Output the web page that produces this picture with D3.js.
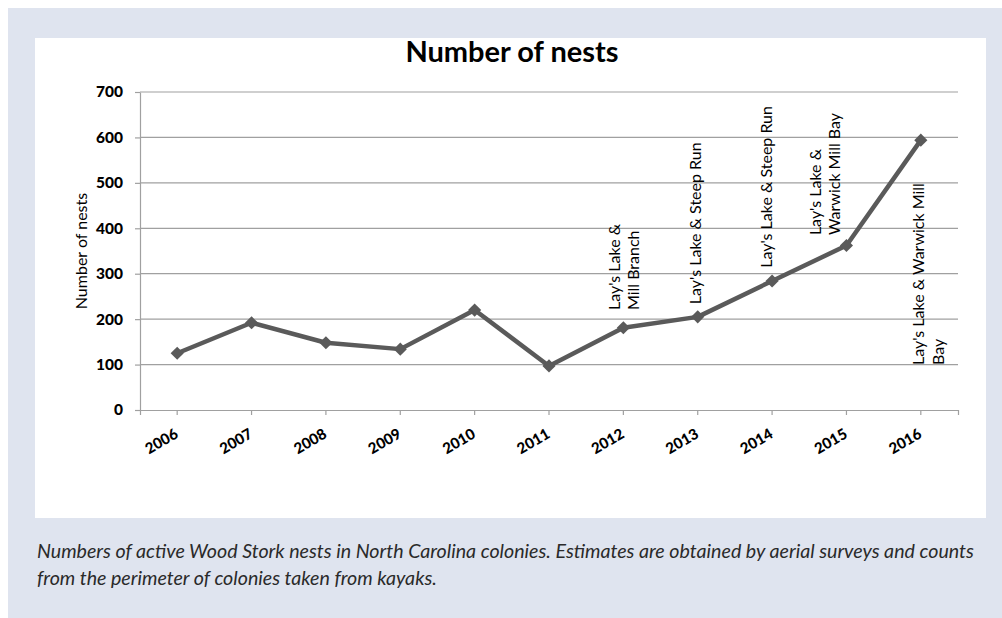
<!DOCTYPE html>
<html>
<head>
<meta charset="utf-8">
<script src="https://cdn.jsdelivr.net/npm/d3@7"></script>
<style>
  html, body { margin: 0; padding: 0; background: #ffffff; }
  svg { display: block; }
</style>
</head>
<body>
<svg id="chart" width="1002" height="618"></svg>
<script>
// Wood Stork nest counts by year
const years = ["2006", "2007", "2008", "2009", "2010", "2011", "2012", "2013", "2014", "2015", "2016"];
const nests = [125, 192, 148, 134, 220, 97, 181, 205, 284, 362, 594];
const yTicks = [0, 100, 200, 300, 400, 500, 600, 700];

// Colony names noted above individual years
const colonyNotes = [
  { year: "2012", lines: ["Lay's Lake &", "Mill Branch"] },
  { year: "2013", lines: ["Lay's Lake & Steep Run"] },
  { year: "2014", lines: ["Lay's Lake & Steep Run"] },
  { year: "2015", lines: ["Lay's Lake &", "Warwick Mill Bay"] },
  { year: "2016", lines: ["Lay's Lake & Warwick Mill", "Bay"] }
];
// Where each note sits: horizontal shift from the point, and the value its baseline starts at
const notePlacement = {
  "2012": { dx: -9, base: 220 },
  "2013": { dx: -2, base: 233 },
  "2014": { dx: -6, base: 313 },
  "2015": { dx: -31, base: 385 },
  "2016": { dx: -2, base: 99 }
};

const captionLines = [
  "Numbers of active Wood Stork nests in North Carolina colonies. Estimates are obtained by aerial surveys and counts",
  "from the perimeter of colonies taken from kayaks."
];

const svg = d3.select("#chart");
const font = "Lato, 'Open Sans', sans-serif";
const ink = "#000000";
const lineColor = "#5a5a5a";
const gridColor = "#a0a0a0";

// Page background and white chart card
svg.append("rect").attr("x", 8).attr("y", 8).attr("width", 994).attr("height", 610).attr("fill", "#dfe4ef");
svg.append("rect").attr("x", 35).attr("y", 38).attr("width", 951).attr("height", 480).attr("fill", "#ffffff");

const plot = { left: 140, right: 958, top: 92, bottom: 410 };

const x = d3.scaleBand().domain(years).range([plot.left, plot.right]);
const cx = d => x(d) + x.bandwidth() / 2;
const y = d3.scaleLinear().domain([0, 700]).range([plot.bottom, plot.top]);

// Title
svg.append("text")
  .attr("x", 512).attr("y", 62)
  .attr("text-anchor", "middle")
  .attr("font-family", font).attr("font-weight", "bold").attr("font-size", 29)
  .attr("fill", ink)
  .text("Number of nests");

// Horizontal gridlines
svg.append("g")
  .selectAll("line")
  .data(yTicks.filter(t => t > 0))
  .join("line")
  .attr("x1", plot.left).attr("x2", plot.right)
  .attr("y1", d => y(d)).attr("y2", d => y(d))
  .attr("stroke", gridColor).attr("stroke-width", 1.2);

// Y axis
const yAxis = svg.append("g")
  .attr("transform", `translate(${plot.left},0)`)
  .call(d3.axisLeft(y).tickValues(yTicks).tickSize(5).tickPadding(12).tickSizeOuter(0));
yAxis.select(".domain").attr("stroke", gridColor).attr("stroke-width", 1.2);
yAxis.selectAll(".tick line").attr("stroke", gridColor).attr("stroke-width", 1.2);
yAxis.selectAll(".tick text")
  .attr("font-family", font).attr("font-weight", "900").attr("font-size", 15.5)
  .attr("fill", ink);

// Y axis title
svg.append("text")
  .attr("transform", `translate(87,${(plot.top + plot.bottom) / 2}) rotate(-90)`)
  .attr("text-anchor", "middle")
  .attr("font-family", font).attr("font-size", 16)
  .attr("fill", ink)
  .text("Number of nests");

// X axis with ticks at category centres
const xAxis = svg.append("g")
  .attr("transform", `translate(0,${plot.bottom})`)
  .call(d3.axisBottom(x).tickSize(5).tickSizeOuter(5).tickPadding(4));
xAxis.select(".domain").attr("stroke", gridColor).attr("stroke-width", 1.2);
xAxis.selectAll(".tick line").attr("stroke", gridColor).attr("stroke-width", 1.2);
xAxis.selectAll(".tick text")
  .attr("font-family", font).attr("font-weight", "900").attr("font-size", 15)
  .attr("fill", ink)
  .attr("text-anchor", "end")
  .attr("y", 0).attr("dy", 0)
  .attr("transform", "translate(2,27) rotate(-30)");

// Line series
const line = d3.line().x((d, i) => cx(years[i])).y(d => y(d));
svg.append("path")
  .datum(nests)
  .attr("d", line)
  .attr("fill", "none")
  .attr("stroke", lineColor)
  .attr("stroke-width", 4.5)
  .attr("stroke-linejoin", "round");

// Diamond markers
const diamond = d3.symbol().type(d3.symbolDiamond2).size(110);
svg.append("g")
  .selectAll("path")
  .data(nests)
  .join("path")
  .attr("d", diamond)
  .attr("transform", (d, i) => `translate(${cx(years[i])},${y(d)})`)
  .attr("fill", lineColor);

// Colony notes, written vertically
const notes = svg.append("g");
colonyNotes.forEach(n => {
  const p = notePlacement[n.year];
  const t = notes.append("text")
    .attr("transform", `translate(${cx(n.year) + p.dx + 5.5},${y(p.base)}) rotate(-90)`)
    .attr("font-family", font).attr("font-size", 16)
    .attr("fill", ink);
  n.lines.forEach((s, i) => {
    t.append("tspan").attr("x", 0).attr("y", i * 19.5).text(s);
  });
});

// Caption below the card
const cap = svg.append("g");
const capText = cap.selectAll("text")
  .data(captionLines)
  .join("text")
  .attr("x", 0)
  .attr("y", (d, i) => 558 + i * 27)
  .attr("font-family", font).attr("font-style", "italic").attr("font-size", 19)
  .attr("fill", "#2a2a2a")
  .text(d => d);
// Condense caption horizontally so the first line spans the card width
const w = capText.nodes()[0].getComputedTextLength();
const sx = 938 / w;
cap.attr("transform", `translate(37,0) scale(${sx},1)`);
</script>
</body>
</html>
